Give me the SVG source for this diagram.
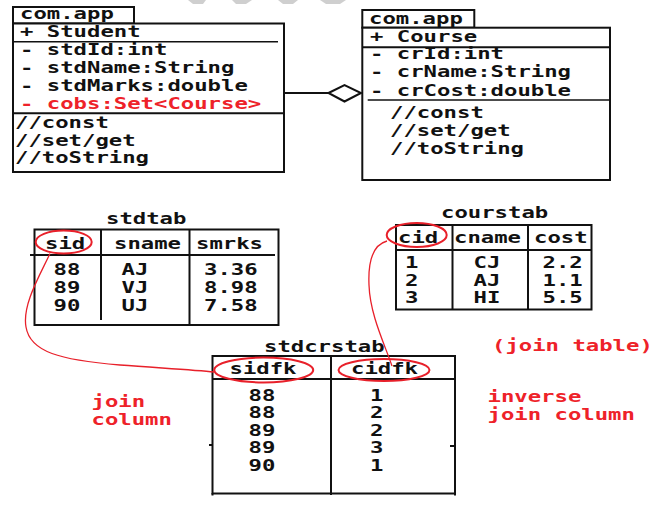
<svg xmlns="http://www.w3.org/2000/svg" width="667" height="522" viewBox="0 0 667 522">
<style>
text{font-family:"DejaVu Sans Mono","Liberation Mono",monospace;font-weight:bold;font-size:15px;fill:#111;}
.r{fill:#ee2229;}
.box{fill:#fff;stroke:#111;stroke-width:2;}
.ln{stroke:#111;stroke-width:2;fill:none;}
.thin{stroke:#111;stroke-width:1.6;fill:none;}
.re{fill:none;stroke:#e8202a;stroke-width:2;}
.rc{fill:none;stroke:#e8202a;stroke-width:1.3;}
.wm{fill:#cfcfcf;}
</style>
<rect width="667" height="522" fill="#fff"/>
<g id="watermark">
<polygon class="wm" points="188,0 206,0 203,4 193,4"/>
<polygon class="wm" points="232,0 252,0 246,4 236,4"/>
<polygon class="wm" points="278,0 298,0 293,4 283,4"/>
<polygon class="wm" points="320,0 346,0 340,4 326,4"/>
</g>
<g id="student">
<rect class="box" x="13" y="7" width="121" height="16.5"/>
<rect class="box" x="13" y="23.5" width="271" height="148.5"/>
<line class="thin" x1="13" y1="41.7" x2="278" y2="41.7"/>
<line class="ln" x1="13" y1="113.3" x2="284" y2="113.3"/>
<text x="20" y="19" textLength="93.8" lengthAdjust="spacingAndGlyphs">com.app</text>
<text x="20" y="37.3" textLength="120.6" lengthAdjust="spacingAndGlyphs">+ Student</text>
<text x="20" y="55" textLength="147.4" lengthAdjust="spacingAndGlyphs">- stdId:int</text>
<text x="20" y="72.8" textLength="214.4" lengthAdjust="spacingAndGlyphs">- stdName:String</text>
<text x="20" y="90.7" textLength="227.8" lengthAdjust="spacingAndGlyphs">- stdMarks:double</text>
<text class="r" x="20" y="109" textLength="241.2" lengthAdjust="spacingAndGlyphs">- cobs:Set&lt;Course&gt;</text>
<text x="15" y="128.3" textLength="93.8" lengthAdjust="spacingAndGlyphs">//const</text>
<text x="15" y="145.8" textLength="120.6" lengthAdjust="spacingAndGlyphs">//set/get</text>
<text x="15" y="163.4" textLength="134" lengthAdjust="spacingAndGlyphs">//toString</text>
</g>
<g id="course">
<rect class="box" x="362.3" y="10" width="112" height="17.7"/>
<rect class="box" x="362.3" y="27.7" width="247.7" height="152.3"/>
<line class="ln" x1="362.3" y1="47.3" x2="610" y2="47.3"/>
<line class="thin" x1="367.7" y1="100" x2="610" y2="100"/>
<text x="369" y="24.3" textLength="93.8" lengthAdjust="spacingAndGlyphs">com.app</text>
<text x="370" y="41.7" textLength="107.2" lengthAdjust="spacingAndGlyphs">+ Course</text>
<text x="370" y="59.3" textLength="134" lengthAdjust="spacingAndGlyphs">- crId:int</text>
<text x="370" y="77.3" textLength="201" lengthAdjust="spacingAndGlyphs">- crName:String</text>
<text x="370" y="95.5" textLength="201" lengthAdjust="spacingAndGlyphs">- crCost:double</text>
<text x="390" y="118.3" textLength="93.8" lengthAdjust="spacingAndGlyphs">//const</text>
<text x="390" y="136" textLength="120.6" lengthAdjust="spacingAndGlyphs">//set/get</text>
<text x="390" y="154" textLength="134" lengthAdjust="spacingAndGlyphs">//toString</text>
</g>
<g id="stdtab">
<text x="106" y="224" textLength="80.4" lengthAdjust="spacingAndGlyphs">stdtab</text>
<rect class="box" x="34.5" y="229.5" width="244" height="95.5"/>
<line class="ln" x1="30" y1="255" x2="275" y2="255"/>
<line class="ln" x1="101" y1="229.5" x2="101" y2="320"/>
<line class="ln" x1="189.5" y1="229.5" x2="189.5" y2="325"/>
<text x="45" y="248.5" textLength="40.2" lengthAdjust="spacingAndGlyphs">sid</text>
<text x="114" y="248.5" textLength="67" lengthAdjust="spacingAndGlyphs">sname</text>
<text x="196" y="248.5" textLength="67" lengthAdjust="spacingAndGlyphs">smrks</text>
<text x="53.5" y="275" textLength="26.8" lengthAdjust="spacingAndGlyphs">88</text>
<text x="53.5" y="292.8" textLength="26.8" lengthAdjust="spacingAndGlyphs">89</text>
<text x="53.5" y="310.7" textLength="26.8" lengthAdjust="spacingAndGlyphs">90</text>
<text x="121.5" y="275" textLength="26.8" lengthAdjust="spacingAndGlyphs">AJ</text>
<text x="121.5" y="292.8" textLength="26.8" lengthAdjust="spacingAndGlyphs">VJ</text>
<text x="121.5" y="310.7" textLength="26.8" lengthAdjust="spacingAndGlyphs">UJ</text>
<text x="204" y="275" textLength="53.6" lengthAdjust="spacingAndGlyphs">3.36</text>
<text x="204" y="292.8" textLength="53.6" lengthAdjust="spacingAndGlyphs">8.98</text>
<text x="204" y="310.7" textLength="53.6" lengthAdjust="spacingAndGlyphs">7.58</text>
</g>
<g id="courstab">
<text x="441" y="218.4" textLength="107.2" lengthAdjust="spacingAndGlyphs">courstab</text>
<rect class="box" x="396" y="225" width="195.5" height="84.5"/>
<line class="ln" x1="396" y1="250" x2="591.5" y2="250"/>
<line class="ln" x1="452.5" y1="225" x2="452.5" y2="309.5"/>
<line class="ln" x1="528" y1="225" x2="528" y2="309.5"/>
<text x="398" y="243" textLength="40.2" lengthAdjust="spacingAndGlyphs">cid</text>
<text x="454" y="243" textLength="67" lengthAdjust="spacingAndGlyphs">cname</text>
<text x="534" y="243" textLength="53.6" lengthAdjust="spacingAndGlyphs">cost</text>
<text x="405" y="268.4" textLength="13.4" lengthAdjust="spacingAndGlyphs">1</text>
<text x="405" y="285.8" textLength="13.4" lengthAdjust="spacingAndGlyphs">2</text>
<text x="405" y="303.4" textLength="13.4" lengthAdjust="spacingAndGlyphs">3</text>
<text x="473.5" y="268.4" textLength="26.8" lengthAdjust="spacingAndGlyphs">CJ</text>
<text x="473.5" y="285.8" textLength="26.8" lengthAdjust="spacingAndGlyphs">AJ</text>
<text x="473.5" y="303.4" textLength="26.8" lengthAdjust="spacingAndGlyphs">HI</text>
<text x="542.5" y="268.4" textLength="40.2" lengthAdjust="spacingAndGlyphs">2.2</text>
<text x="542.5" y="285.8" textLength="40.2" lengthAdjust="spacingAndGlyphs">1.1</text>
<text x="542.5" y="303.4" textLength="40.2" lengthAdjust="spacingAndGlyphs">5.5</text>
</g>
<g id="stdcrstab">
<text x="264" y="351.8" textLength="120.6" lengthAdjust="spacingAndGlyphs">stdcrstab</text>
<rect class="box" x="212.5" y="356" width="242.5" height="137.5"/>
<line class="ln" x1="212.5" y1="379" x2="455" y2="379"/>
<line class="ln" x1="331" y1="356" x2="331" y2="495"/>
<line class="ln" x1="212.5" y1="493" x2="212.5" y2="495.5"/>
<line class="ln" x1="455" y1="493" x2="455" y2="495.5"/>
<line class="ln" x1="209" y1="445" x2="212.5" y2="445"/>
<line class="ln" x1="450" y1="446" x2="455" y2="446"/>
<text x="229.5" y="373.5" textLength="67" lengthAdjust="spacingAndGlyphs">sidfk</text>
<text x="351" y="373.5" textLength="67" lengthAdjust="spacingAndGlyphs">cidfk</text>
<text x="248.5" y="400.5" textLength="26.8" lengthAdjust="spacingAndGlyphs">88</text>
<text x="248.5" y="418" textLength="26.8" lengthAdjust="spacingAndGlyphs">88</text>
<text x="248.5" y="435.5" textLength="26.8" lengthAdjust="spacingAndGlyphs">89</text>
<text x="248.5" y="453" textLength="26.8" lengthAdjust="spacingAndGlyphs">89</text>
<text x="248.5" y="470.5" textLength="26.8" lengthAdjust="spacingAndGlyphs">90</text>
<text x="370" y="400.5" textLength="13.4" lengthAdjust="spacingAndGlyphs">1</text>
<text x="370" y="418" textLength="13.4" lengthAdjust="spacingAndGlyphs">2</text>
<text x="370" y="435.5" textLength="13.4" lengthAdjust="spacingAndGlyphs">2</text>
<text x="370" y="453" textLength="13.4" lengthAdjust="spacingAndGlyphs">3</text>
<text x="370" y="470.5" textLength="13.4" lengthAdjust="spacingAndGlyphs">1</text>
</g>
<g id="labels">
<text class="r" x="91.5" y="407" textLength="53.6" lengthAdjust="spacingAndGlyphs">join</text>
<text class="r" x="91.5" y="424.5" textLength="80.4" lengthAdjust="spacingAndGlyphs">column</text>
<text class="r" x="492" y="351" textLength="160.8" lengthAdjust="spacingAndGlyphs">(join table)</text>
<text class="r" x="487.5" y="401.8" textLength="93.8" lengthAdjust="spacingAndGlyphs">inverse</text>
<text class="r" x="487.5" y="420" textLength="147.4" lengthAdjust="spacingAndGlyphs">join column</text>
</g>
<g id="connectors">
<line class="ln" x1="284" y1="93" x2="328.5" y2="93"/>
<polygon class="box" points="328.5,93 344.5,85 361,93 344.5,101.5"/>
<ellipse class="re" cx="63.7" cy="242" rx="28" ry="11.5"/>
<ellipse class="re" cx="416.7" cy="235" rx="30" ry="12"/>
<ellipse class="re" cx="263.7" cy="370" rx="49.5" ry="12.5"/>
<ellipse class="re" cx="384" cy="370" rx="45.5" ry="11"/>
<path class="rc" d="M50,253.5 C40,275 22,305 26,327 C30,352 60,360 120,365 C160,368 195,370 214,372"/>
<path class="rc" d="M387,241 C372,245 368,262 369,285 C370,315 385,345 392,366"/>
</g>
</svg>
